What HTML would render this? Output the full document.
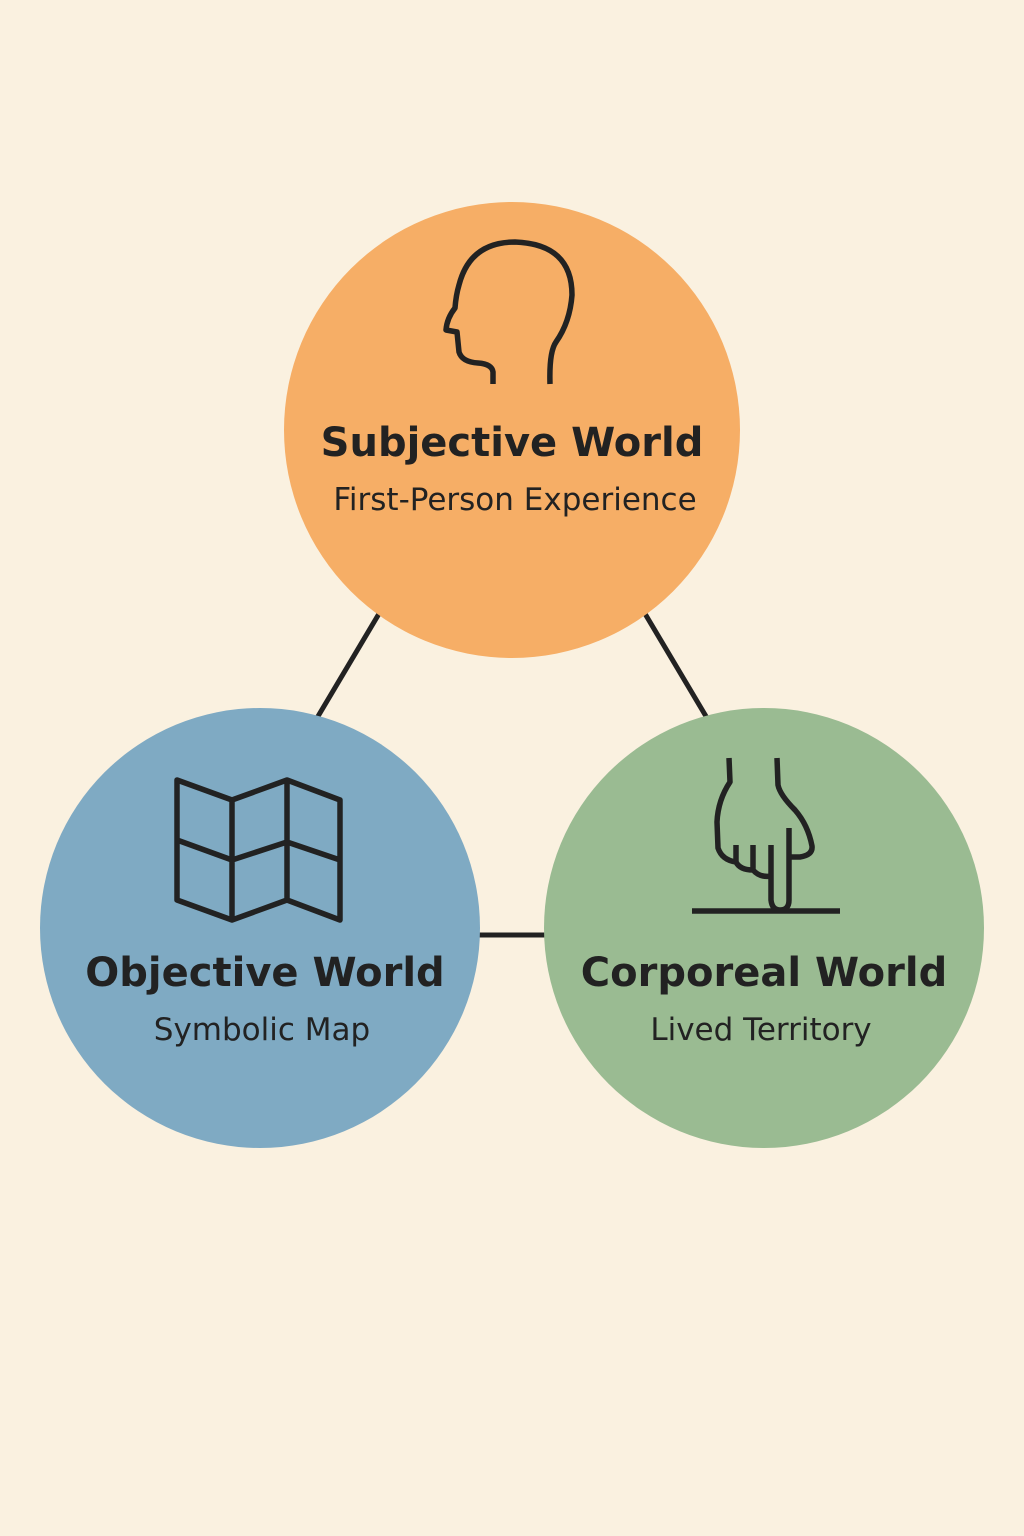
<!DOCTYPE html>
<html><head><meta charset="utf-8"><style>
html,body{margin:0;padding:0;background:#FAF1E0;}
svg{display:block}
text{font-family:"DejaVu Sans","Liberation Sans",sans-serif;fill:#222;text-anchor:middle}
.t{font-weight:bold;font-size:40px}
.s{font-size:31px}
</style></head><body>
<svg width="1024" height="1536" viewBox="0 0 1024 1536">
<rect width="1024" height="1536" fill="#FAF1E0"/>
<g stroke="#222" stroke-width="5">
<line x1="380" y1="612" x2="317" y2="718"/>
<line x1="644" y1="612" x2="707" y2="718"/>
<line x1="476" y1="935" x2="550" y2="935"/>
</g>
<circle cx="512" cy="430" r="228" fill="#F6AE66"/>
<circle cx="260" cy="928" r="220" fill="#7FAAC3"/>
<circle cx="764" cy="928" r="220" fill="#9ABB92"/>
<g fill="none" stroke="#222" stroke-width="5.5" stroke-linejoin="round" stroke-linecap="butt">
<path d="M493,384 L493,372 Q492,364 478,363 Q462,362 459,352 L457,332 L446,330 Q447,318 455,308 Q456,295 459,285 Q470,242 515,242 Q572,244 572,295 Q570,322 556,342 Q549,352 550,384"/>
<path d="M177,780 L232,800 L287,780 L340,800 L340,920 L287,900 L232,920 L177,900 Z M232,800 L232,920 M287,780 L287,900 M177,840 L232,860 L287,842 L340,860"/>
<path d="M729,758 L730,782 Q718,800 717,822 L718,848 Q722,860 736,862 L736,845 M736,862 Q740,870 753,870 L753,845 M753,870 Q760,878 771,876 L771,845 M771,876 L771,900 Q772,910 780,910 Q789,910 789,900 L789,828 M789,857 L800,857 Q813,855 812,846 Q808,825 795,810 Q780,795 778,785 L777,758"/>
<line x1="692" y1="911" x2="840" y2="911"/>
</g>
<text class="t" x="512" y="456">Subjective World</text>
<text class="s" x="515" y="510">First-Person Experience</text>
<text class="t" x="265" y="986">Objective World</text>
<text class="s" x="262" y="1040">Symbolic Map</text>
<text class="t" x="764" y="986">Corporeal World</text>
<text class="s" x="761" y="1040">Lived Territory</text>
</svg>
</body></html>
